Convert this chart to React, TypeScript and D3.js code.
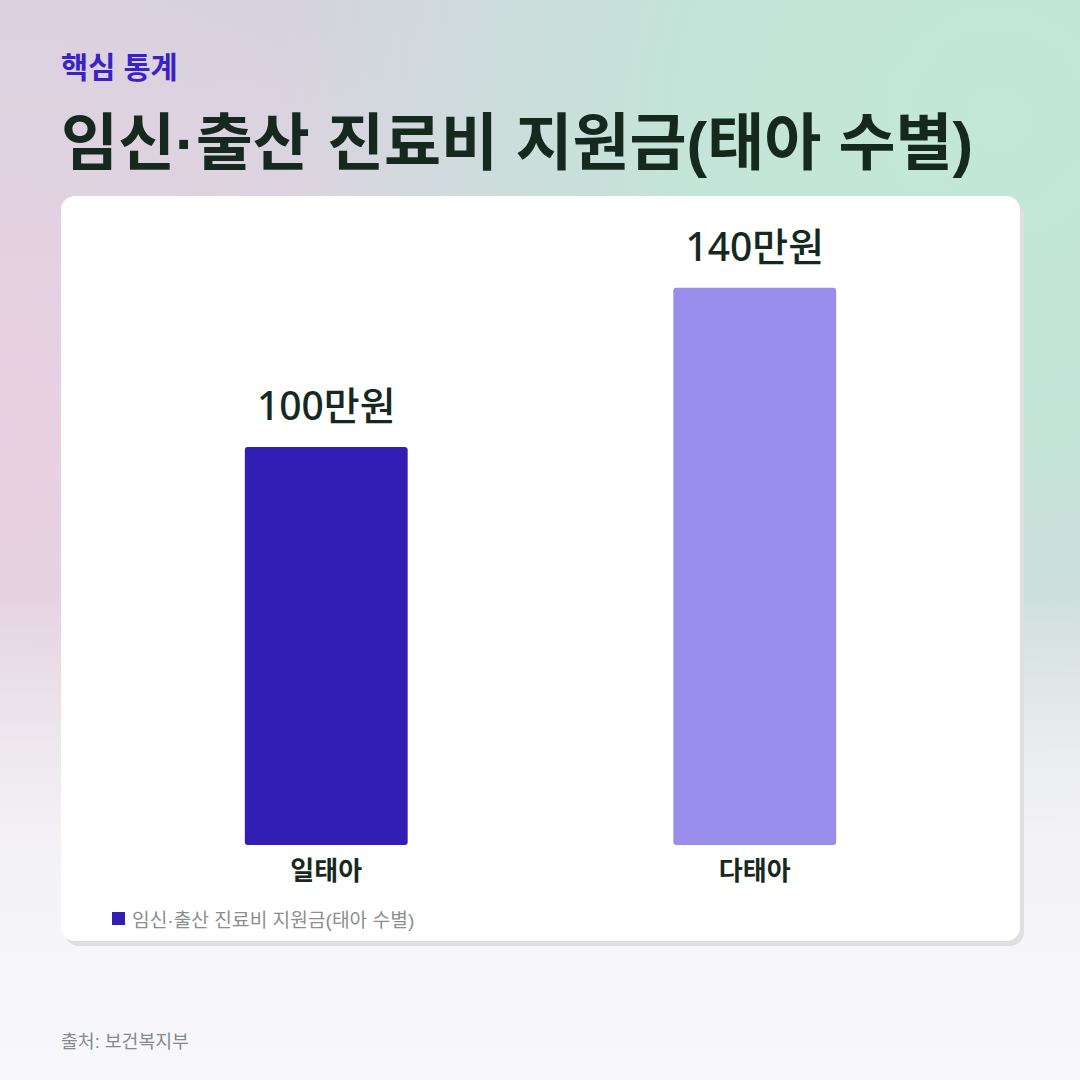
import React from 'react';
import * as d3 from 'd3';

// chart data
const categories = ['일태아', '다태아'];
const values = [100, 140];
const valueLabels = ['100만원', '140만원'];
const barColors = ['#321eb5', '#9b8deb'];

const kicker = '핵심 통계';
const title = '임신·출산 진료비 지원금(태아 수별)';
const legendLabel = '임신·출산 진료비 지원금(태아 수별)';
const source = '출처: 보건복지부';

const W = 1080;
const H = 1080;
// latin glyphs (digits, punctuation) from Liberation Sans, hangul falls back to Noto CJK
const FONT = '"Liberation Sans", "Noto Sans CJK KR", sans-serif';
const VALUE_FONT = '"Noto Sans", "Noto Sans CJK KR", sans-serif';

const App: React.FC = () => {
    // card bounds
    const card = { x: 61, y: 196, w: 959, h: 745, r: 14 };

    const xScale = d3.scaleBand<string>()
        .domain(categories)
        .range([112, 969])
        .paddingInner(0.62)
        .paddingOuter(0.31);

    const yScale = d3.scaleLinear()
        .domain([0, (d3.max(values) as number) * 1.1])
        .range([845, 232]);

    return (
        <div style={{ position: 'fixed', left: 0, top: 0, width: W, height: H }}>
            <svg width={W} height={H} style={{ display: 'block' }} fontFamily={FONT}>
                <defs>
                    <linearGradient id="bgBase" x1="0" y1="0" x2="0" y2="1">
                        <stop offset="0%" stopColor="#d6d2de" />
                        <stop offset="55%" stopColor="#dcd8e0" />
                        <stop offset="100%" stopColor="#f8f8fa" />
                    </linearGradient>
                    <radialGradient id="bgPink" cx="0" cy="430" r="520" gradientUnits="userSpaceOnUse">
                        <stop offset="0%" stopColor="#ead0e2" stopOpacity={1} />
                        <stop offset="100%" stopColor="#ead0e2" stopOpacity={0} />
                    </radialGradient>
                    <radialGradient id="bgMint" cx="1000" cy="120" r="720" gradientUnits="userSpaceOnUse">
                        <stop offset="0%" stopColor="#c2e8d8" stopOpacity={1} />
                        <stop offset="45%" stopColor="#c2e6d8" stopOpacity={0.9} />
                        <stop offset="100%" stopColor="#c2e6d8" stopOpacity={0} />
                    </radialGradient>
                    <linearGradient id="bgFade" x1="0" y1="0" x2="0" y2="1">
                        <stop offset="0%" stopColor="#f7f7f9" stopOpacity={0} />
                        <stop offset="55%" stopColor="#f7f7f9" stopOpacity={0} />
                        <stop offset="85%" stopColor="#f5f5f8" stopOpacity={1} />
                        <stop offset="100%" stopColor="#f8f8fa" stopOpacity={1} />
                    </linearGradient>
                </defs>

                <rect width={W} height={H} fill="url(#bgBase)" />
                <rect width={W} height={H} fill="url(#bgPink)" />
                <rect width={W} height={H} fill="url(#bgMint)" />
                <rect width={W} height={H} fill="url(#bgFade)" />

                {/* header */}
                <text x={61} y={78} fontSize={29.5} fontWeight={600} fill="#3a22c4">{kicker}</text>
                <text x={61} y={165} fontSize={62} fontWeight={700} fill="#16291f">{title}</text>

                {/* card with flat shadow */}
                <rect x={card.x + 4} y={card.y + 5} width={card.w} height={card.h} rx={card.r} fill="#dfdfe3" />
                <rect x={card.x} y={card.y} width={card.w} height={card.h} rx={card.r} fill="#ffffff" />

                {/* bars */}
                {categories.map((c, i) => (
                    <g key={c}>
                        <rect
                            x={xScale(c)}
                            y={yScale(values[i])}
                            width={xScale.bandwidth()}
                            height={yScale(0) - yScale(values[i])}
                            rx={3}
                            fill={barColors[i]}
                        />
                        <text
                            x={(xScale(c) as number) + xScale.bandwidth() / 2}
                            y={yScale(values[i]) - 27}
                            textAnchor="middle"
                            fontFamily={VALUE_FONT}
                            fontSize={39}
                            fontWeight={500}
                            fill="#16291f"
                        >
                            {valueLabels[i]}
                        </text>
                        <text
                            x={(xScale(c) as number) + xScale.bandwidth() / 2}
                            y={yScale(0) + 35}
                            textAnchor="middle"
                            fontSize={26}
                            fontWeight={700}
                            fill="#16291f"
                        >
                            {c}
                        </text>
                    </g>
                ))}

                {/* legend */}
                <rect x={112} y={912} width={13} height={13} fill={barColors[0]} />
                <text x={132} y={927} fontSize={19.2} fill="#8a8f8e">{legendLabel}</text>

                {/* source */}
                <text x={61} y={1048} fontSize={18.3} fill="#878a8c">{source}</text>
            </svg>
        </div>
    );
};

export default App;
